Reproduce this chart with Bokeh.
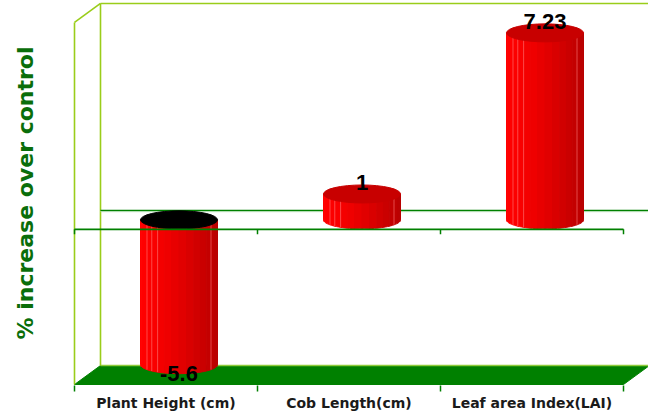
import numpy as np
from bokeh.plotting import figure
from bokeh.models import FixedTicker, Range1d, ColumnDataSource
from bokeh.embed import file_html
from bokeh.resources import INLINE
from bokeh.core.properties import value

# ---------------- data ----------------
categories = ["Plant Height (cm)", "Cob Length(cm)", "Leaf area Index(LAI)"]
values = [-5.6, 1.0, 7.23]
value_labels = ["-5.6", "1", "7.23"]
y_axis_title = "% increase over control"
Y_MIN, Y_MAX = -6, 8

# ---------------- geometry / style ----------------
PX_X = 183.0          # pixels per category
PX_Y = 25.86          # pixels per value unit
DX = 26 / PX_X        # 3-D depth offset (category units)
DY = 19 / PX_Y        # 3-D depth offset (value units)
RX = 38.5 / PX_X      # cylinder radius
RY = 9 / PX_Y         # ellipse half height
FRAME_W, FRAME_H = 576, 385
BORDER_L, BORDER_B = 72, 30

x_start = -0.5 - 2 / PX_X
x_end = x_start + FRAME_W / PX_X
y_start = Y_MIN - 1 / PX_Y
y_end = y_start + FRAME_H / PX_Y

FONT = "Liberation Sans"
LAB_FONT = "DejaVu Sans"
WALL = "#9acd1a"
GREEN = "#008000"

n = len(categories)
centers = list(range(n))
bounds = [c - 0.5 for c in centers] + [centers[-1] + 0.5]

p = figure(frame_width=FRAME_W, frame_height=FRAME_H,
           x_range=Range1d(x_start, x_end), y_range=Range1d(y_start, y_end),
           output_backend="svg", toolbar_location=None,
           min_border_left=BORDER_L, min_border_right=0, min_border_top=0,
           min_border_bottom=BORDER_B)
p.outline_line_color = None
p.grid.visible = False
p.background_fill_color = "white"
p.border_fill_color = "white"

# ---------------- floor ----------------
fl, fr = bounds[0], bounds[-1]
p.patch(x=[fl, fl + DX, fr + DX, fr], y=[Y_MIN, Y_MIN + DY, Y_MIN + DY, Y_MIN],
        fill_color=GREEN, line_color=GREEN, line_width=1)
p.line(x=[fl + DX, fr + DX], y=[Y_MIN + DY, Y_MIN + DY], line_color="#8fcc3a", line_width=1.5)

# ---------------- walls ----------------
wall_top = Y_MAX + DY
p.line(x=[fl, fl], y=[Y_MIN, Y_MAX], line_color=WALL, line_width=1.6)
p.line(x=[fl, fl + DX], y=[Y_MAX, wall_top], line_color=WALL, line_width=1.6)
p.line(x=[fl + DX, fl + DX], y=[Y_MIN + DY, wall_top], line_color=WALL, line_width=1.6)
p.line(x=[fl + DX, x_end], y=[wall_top, wall_top], line_color=WALL, line_width=1.6)

# back zero line
p.line(x=[fl + DX, x_end], y=[DY, DY], line_color=GREEN, line_width=1.3)
p.line(x=[fl + DX, x_end], y=[DY - 1.3 / PX_Y, DY - 1.3 / PX_Y], line_color="#a8d8a8", line_width=1)

# ---------------- cylinders ----------------
NF = 16
def facet_color(t):
    r = int(round(255 - 70 * t ** 1.4))
    return "#%02x0000" % max(0, min(255, r))

xs, ys, cols = [], [], []
lx0, lx1, ly0, ly1 = [], [], [], []
top_x, top_y, top_col = [], [], []
lab_x, lab_y, lab_off = [], [], []
for i, v in enumerate(values):
    cx = centers[i] + DX / 2
    lo = min(0, v) + DY / 2
    hi = max(0, v) + DY / 2
    for k in range(NF):
        t0 = np.pi - k * np.pi / NF
        t1 = np.pi - (k + 1) * np.pi / NF
        th = np.linspace(t0, t1, 4)
        bx = list(cx + RX * np.cos(th))
        by = list(lo - RY * np.sin(th))
        xs.append(bx + [bx[-1], bx[0]])
        ys.append(by + [hi, hi])
        tm = (1 + np.cos((t0 + t1) / 2)) / 2   # 0 at left, 1 at right
        cols.append(facet_color(tm))
    # highlight lines
    for k in (3, 4, 5, 13):
        t = np.pi - k * np.pi / NF
        xx = cx + RX * np.cos(t)
        lx0.append(xx); lx1.append(xx)
        ly0.append(lo - RY * np.sin(t)); ly1.append(hi)
    top_x.append(cx); top_y.append(hi)
    top_col.append("#000000" if v < 0 else "#c80000")
    lab_x.append(cx)
    lab_y.append(hi if v >= 0 else lo)
    lab_off.append(-11 if v >= 0 else 9)

p.patches(xs=xs, ys=ys, fill_color=cols, line_color=cols, line_width=1)
p.segment(x0=lx0, y0=ly0, x1=lx1, y1=ly1, line_color="#ff7a7a", line_width=1, line_alpha=0.6)
p.ellipse(x=top_x, y=top_y, width=2 * RX, height=2 * RY, fill_color=top_col,
          line_color=top_col, line_width=1)

# ---------------- front zero line + ticks ----------------
p.line(x=[fl, fr], y=[0, 0], line_color=GREEN, line_width=1.6)
p.segment(x0=bounds, y0=[0] * len(bounds), x1=bounds, y1=[-5 / PX_Y] * len(bounds),
          line_color=GREEN, line_width=1.5)

# ---------------- value labels ----------------
src = ColumnDataSource(dict(x=lab_x, y=lab_y, t=value_labels, off=lab_off))
p.text(x="x", y="y", text="t", y_offset="off", source=src,
       text_font=value(FONT), text_font_style="bold", text_font_size="22px",
       text_align="center", text_baseline="middle", text_color="#000000")

# ---------------- axes ----------------
xa = p.xaxis[0]
xa.ticker = FixedTicker(ticks=centers, minor_ticks=bounds)
xa.major_label_overrides = {c: lab for c, lab in zip(centers, categories)}
xa.axis_line_color = None
xa.major_tick_line_color = None
xa.major_tick_out = 0
xa.major_tick_in = 0
xa.minor_tick_line_color = GREEN
xa.minor_tick_line_width = 1.5
xa.minor_tick_out = 6
xa.minor_tick_in = 0
xa.major_label_standoff = 3
xa.major_label_text_font = LAB_FONT
xa.major_label_text_font_style = "bold"
xa.major_label_text_font_size = "14px"
xa.major_label_text_color = "#1a1a1a"

ya = p.yaxis[0]
ya.ticker = FixedTicker(ticks=[])
ya.axis_line_color = None
ya.major_tick_line_color = None
ya.minor_tick_line_color = None
ya.major_tick_out = 0
ya.major_label_standoff = 0
ya.axis_label = y_axis_title
ya.axis_label_text_font = LAB_FONT
ya.axis_label_text_font_style = "bold"
ya.axis_label_text_font_size = "22px"
ya.axis_label_text_color = "#0a6e0a"
ya.axis_label_standoff = 35

open("out.html", "w").write(file_html(p, INLINE))
